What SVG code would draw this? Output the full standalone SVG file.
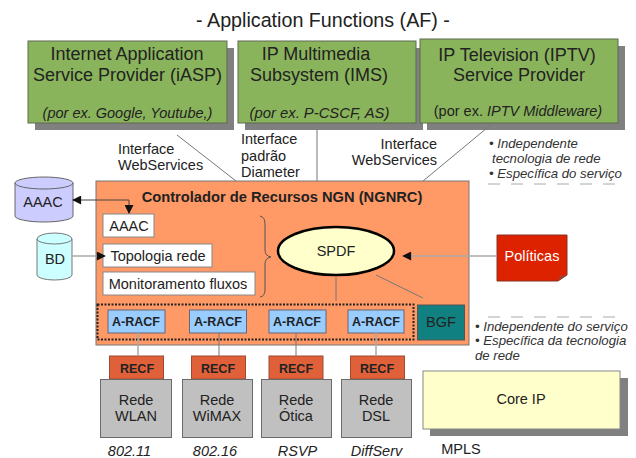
<svg xmlns="http://www.w3.org/2000/svg" width="636" height="458" viewBox="0 0 636 458">
<defs>
<marker id="arrow" viewBox="0 0 10 10" refX="9" refY="5" markerWidth="11" markerHeight="9" markerUnits="userSpaceOnUse" orient="auto-start-reverse"><path d="M0 0L10 5L0 10z" fill="#111"/></marker>
</defs>
<style>
text{font-family:"Liberation Sans",Arial,sans-serif;fill:#222;text-anchor:middle}
.af{fill:#8ab45c;stroke:#5d6b50;stroke-width:1}
.sh{fill:#808080}
.t18{font-size:18px}
.t14{font-size:14.5px}
.i{font-style:italic}
.b{font-weight:bold}
.st{text-anchor:start}
.en{text-anchor:end}
.w{fill:#fff;stroke:#888;stroke-width:1}
.ar{fill:#99ccff;stroke:#667;stroke-width:1}
.re{fill:#e0603a;stroke:#a04a30;stroke-width:1}
.gr{fill:#c0c0c0;stroke:#6a6a6a;stroke-width:1}
.l{stroke:#777;stroke-width:1;fill:none}
.lg{stroke:#aaa;stroke-width:1.5;fill:none}
.note{font-size:13.2px;font-style:italic;text-anchor:start;fill:#333}
.dash{stroke:#aaa;stroke-width:1;stroke-dasharray:12 11;fill:none}
</style>
<rect width="636" height="458" fill="#fff"/>
<text x="323" y="27" font-size="19.7">- Application Functions (AF) -</text>

<g id="iasp"><rect class="sh" x="35" y="48" width="199" height="82"/><rect class="af" x="28" y="41" width="199" height="82"/>
<text class="t18" x="127" y="60">Internet Application</text><text class="t18" x="127.500" y="81">Service Provider (iASP)</text><text class="i" x="127.500" y="118" font-size="14.500">(por ex. Google, Youtube,)</text></g>
<g id="ims"><rect class="sh" x="245" y="48" width="178" height="82"/><rect class="af" x="238" y="41" width="178" height="82"/>
<text class="t18" x="316" y="60">IP Multimedia</text><text class="t18" x="319" y="81">Subsystem (IMS)</text><text class="i" x="319.500" y="118" font-size="14.800">(por ex. P-CSCF, AS)</text></g>
<g id="iptv"><rect class="sh" x="427" y="46" width="198" height="84"/><rect class="af" x="420" y="39" width="198" height="84"/>
<text class="t18" x="517" y="61">IP Television (IPTV)</text><text class="t18" x="519" y="81">Service Provider</text><text class="t14" x="518" y="116">(por ex. <tspan class="i">IPTV Middleware)</tspan></text></g>

<g id="labels">
<text class="t14 st" x="118" y="154">Interface</text>
<text class="t14 st" x="118" y="170">WebServices</text>
<text class="t14 st" x="241" y="144">Interface</text>
<text class="t14 st" x="241" y="161">padrão</text>
<text class="t14 st" x="241" y="177">Diameter</text>
<text class="t14 en" x="437" y="149">Interface</text>
<text class="t14 en" x="437" y="165">WebServices</text>
<text class="note" x="489" y="148">• Independente</text>
<text class="note" x="492" y="163">tecnologia de rede</text>
<text class="note" x="489" y="178">• Específica do serviço</text>
<path class="dash" d="M488 184H620"/>
<path class="dash" d="M488 317H620"/>
<text class="note" x="475" y="331">• Independente do serviço</text>
<text class="note" x="475" y="345">• Específica da tecnologia</text>
<text class="note" x="475" y="360">de rede</text>
</g>

<g id="ngnrc"><rect x="96" y="181" width="373" height="164" fill="#ff9966" stroke="#777"/>
<text class="b" x="282" y="202" font-size="14.700">Controlador de Recursos NGN (NGNRC)</text></g>

<g id="db-aaac"><path d="M15 183A29 6 0 0 1 73 183V216A29 6 0 0 1 15 216z" fill="#ccccff" stroke="#666"/><path d="M15 183A29 6 0 0 0 73 183" fill="none" stroke="#666"/><text class="t14" x="43" y="207">AAAC</text></g>
<g id="db-bd"><path d="M37 239A17.500 6 0 0 1 72 239V275A17.500 5 0 0 1 37 275z" fill="#ccffff" stroke="#777"/><path d="M37 239A17.500 5 0 0 0 72 239" fill="none" stroke="#777"/><text class="t14" x="55" y="264">BD</text></g>

<g id="box-aaac"><rect class="w" x="103" y="214" width="51" height="23"/><text class="t14" x="129" y="231">AAAC</text></g>
<g id="box-topologia"><rect class="w" x="103" y="244" width="109" height="23"/><text class="t14" x="158" y="261">Topologia rede</text></g>
<g id="box-monitoramento"><rect class="w" x="103" y="272" width="152" height="23"/><text class="t14" x="178" y="289">Monitoramento fluxos</text></g>
<path id="brace" d="M260 216Q265 217 265 224V250Q265 256 271 257Q265 258 265 264V290Q265 296 260 297" fill="none" stroke="#555"/>

<g id="spdf"><ellipse cx="336" cy="251" rx="58" ry="24" fill="#ffffcc" stroke="#000" stroke-width="2.500"/><text class="t14" x="336" y="256">SPDF</text></g>

<g id="politicas"><path d="M497 235H567V275L558 281H497z" fill="#dd2200" stroke="#883322"/><path d="M558 281L560 276L567 275z" fill="#994433"/><text class="t14" x="532" y="261" style="fill:#fff">Políticas</text></g>

<rect id="dotted" x="97.500" y="304.500" width="316" height="35" fill="none" stroke="#222" stroke-width="2" stroke-dasharray="2 1.500"/>

<g id="racf1"><rect class="ar" x="108" y="310" width="57" height="23"/><text class="b" x="136" y="326" font-size="12.500">A-RACF</text></g>
<g id="racf2"><rect class="ar" x="189.500" y="310" width="57" height="23"/><text class="b" x="218" y="326" font-size="12.500">A-RACF</text></g>
<g id="racf3"><rect class="ar" x="269" y="310" width="57" height="23"/><text class="b" x="297" y="326" font-size="12.500">A-RACF</text></g>
<g id="racf4"><rect class="ar" x="348" y="310" width="56" height="23"/><text class="b" x="376" y="326" font-size="12.500">A-RACF</text></g>
<g id="bgf"><rect x="417.500" y="305" width="47" height="35" fill="#118080" stroke="#555"/><text class="t14" x="441" y="327">BGF</text></g>

<g id="recf1"><rect class="re" x="109.500" y="356" width="54" height="23"/><text class="b" x="137" y="373" font-size="12.500">RECF</text></g>
<g id="recf2"><rect class="re" x="191.500" y="356" width="54" height="23"/><text class="b" x="218" y="373" font-size="12.500">RECF</text></g>
<g id="recf3"><rect class="re" x="269" y="356" width="54" height="23"/><text class="b" x="296" y="373" font-size="12.500">RECF</text></g>
<g id="recf4"><rect class="re" x="350.500" y="356" width="54" height="23"/><text class="b" x="377" y="373" font-size="12.500">RECF</text></g>

<g id="wlan"><rect class="gr" x="100.500" y="379.500" width="71" height="58"/><text class="t14" x="136" y="405">Rede</text><text class="t14" x="136" y="421">WLAN</text></g>
<g id="wimax"><rect class="gr" x="182.500" y="379.500" width="70" height="58"/><text class="t14" x="217" y="405">Rede</text><text class="t14" x="217" y="421">WiMAX</text></g>
<g id="otica"><rect class="gr" x="261.500" y="379.500" width="70" height="58"/><text class="t14" x="296" y="405">Rede</text><text class="t14" x="296" y="421">Ótica</text></g>
<g id="dsl"><rect class="gr" x="341.500" y="379.500" width="70" height="58"/><text class="t14" x="376" y="405">Rede</text><text class="t14" x="376" y="421">DSL</text></g>

<g id="coreip"><rect class="sh" x="430" y="378" width="198" height="58"/><rect x="423" y="371" width="197" height="58" fill="#ffffcc" stroke="#888"/><text class="t14" x="521" y="404">Core IP</text></g>

<g id="protocols">
<text class="t14 i" x="129.500" y="456">802.11</text>
<text class="t14 i" x="215" y="456">802.16</text>
<text class="t14 i" x="297.500" y="456">RSVP</text>
<text class="t14 i" x="376.500" y="456">DiffServ</text>
<text class="t14" x="461" y="454">MPLS</text>
</g>

<g id="connectors">
<path class="l" d="M177 135L236 181"/>
<path class="l" d="M317 130V181"/>
<path class="l" d="M493 123L423 181"/>
<path class="lg" d="M138 333V356"/>
<path class="l" d="M219 333V356"/>
<path class="l" d="M296 333V356"/>
<path class="lg" d="M376 333V356"/>
<path class="l" d="M336 277V301"/>
<path class="l" d="M376 275L423 298"/>
<path d="M73 200H129V213" fill="none" stroke="#444" marker-start="url(#arrow)" marker-end="url(#arrow)"/>
<path class="lg" d="M72 256H105" marker-end="url(#arrow)"/>
<path class="lg" d="M496 256H403" marker-end="url(#arrow)"/>
</g>
</svg>
